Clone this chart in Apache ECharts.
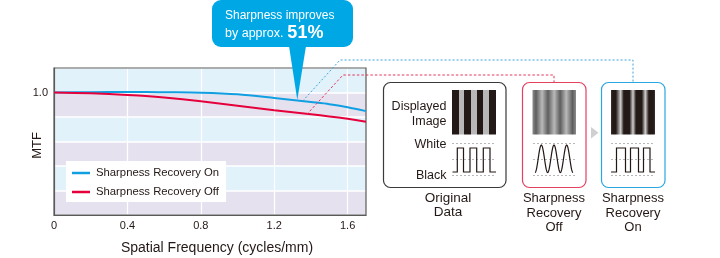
<!DOCTYPE html>
<html>
<head>
<meta charset="utf-8">
<script src="https://cdn.jsdelivr.net/npm/echarts@6/dist/echarts.min.js"></script>
<style>html,body{margin:0;padding:0;background:#fff}#c{width:720px;height:258px}</style>
</head>
<body>
<div id="c"></div>
<script>
// ---- data ----
var freq = [0, 0.2, 0.4, 0.5, 0.6, 0.8, 1.0, 1.2, 1.4, 1.5, 1.6, 1.7];
var mtfOn  = [1.0, 1.002, 1.004, 1.004, 1.002, 0.998, 0.985, 0.955, 0.922, 0.905, 0.88, 0.848];
var mtfOff = [1.0, 0.993, 0.980, 0.972, 0.960, 0.929, 0.892, 0.855, 0.823, 0.805, 0.785, 0.762];
var seriesNames = ['Sharpness Recovery On', 'Sharpness Recovery Off'];
var xTickLabels = ['0', '0.4', '0.8', '1.2', '1.6'];
var yTickLabels = ['1.0'];
var calloutLine1 = 'Sharpness improves';
var calloutLine2 = 'by approx.';
var calloutValue = '51%';
var panelLabels = ['Original\nData', 'Sharpness\nRecovery\nOff', 'Sharpness\nRecovery\nOn'];

var FONT = "'Liberation Sans', Arial, sans-serif";
var BLUE = '#10a0e2', RED = '#e5003c', CALL = '#00a7e5';

function pairs(xs, ys){ return xs.map(function(x,i){ return [x, ys[i]]; }); }
function fmtX(v){ for (var i=0;i<xTickLabels.length;i++){ if (Math.abs(parseFloat(xTickLabels[i])-v)<1e-6) return xTickLabels[i]; } return ''; }
function fmtY(v){ for (var i=0;i<yTickLabels.length;i++){ if (Math.abs(parseFloat(yTickLabels[i])-v)<1e-6) return yTickLabels[i]; } return ''; }

// ---- illustration helpers ----
var g = [];
function txt(x, y, s, opts){
  opts = opts || {};
  g.push({type:'text', z:10, style:{x:x, y:y, text:s, fill:opts.fill||'#231815',
    font:(opts.weight||'normal')+' '+(opts.size||12)+'px '+FONT, align:opts.align||'left',
    verticalAlign:opts.va||'middle', lineHeight:opts.lh||14}});
}
function dashedRow(x1, x2, y){
  g.push({type:'line', z:5, shape:{x1:x1,y1:y,x2:x2,y2:y}, style:{stroke:'#b8b8b8', lineWidth:1, lineDash:[2,2]}});
}
function squareWave(x0, x1, yHi, yLo, edges){
  var pts = [[x0,yLo]]; var lo = true;
  edges.forEach(function(e){ pts.push([e, lo?yLo:yHi]); lo = !lo; pts.push([e, lo?yLo:yHi]); });
  pts.push([x1, lo?yLo:yHi]);
  g.push({type:'polyline', z:6, shape:{points:pts}, style:{stroke:'#231815', lineWidth:1.2, fill:null}});
}
function stripes(x, y, w, h, stops){
  g.push({type:'rect', z:5, shape:{x:x,y:y,width:w,height:h},
    style:{fill:new echarts.graphic.LinearGradient(0,0,1,0, stops.map(function(s){return {offset:s[0], color:s[1]};}))}});
}

// callout
g.push({type:'rect', z:20, shape:{x:212, y:0, width:141, height:47, r:9}, style:{fill:CALL}});
g.push({type:'polygon', z:20, shape:{points:[[289,46],[306,46],[297.3,100]]}, style:{fill:CALL}});
g.push({type:'text', z:21, style:{x:225, y:16, text:calloutLine1, fill:'#fff', font:'12px '+FONT, verticalAlign:'middle'}});
g.push({type:'text', z:21, style:{x:225, y:33, text:'{a|'+calloutLine2+'}{b|'+calloutValue+'}', verticalAlign:'middle',
  rich:{a:{fill:'#fff', font:'12.5px '+FONT, padding:[2,4,0,0]}, b:{fill:'#fff', font:'bold 18px '+FONT}}}});

// dotted connectors
g.push({type:'polyline', z:8, shape:{points:[[302.7,101],[340,60],[633,60],[633,82]]}, style:{stroke:'#3aa6de', lineWidth:1, lineDash:[2,2], fill:null}});
g.push({type:'polyline', z:8, shape:{points:[[306.7,114.5],[343,75],[554,75],[554,82]]}, style:{stroke:'#e2375c', lineWidth:1, lineDash:[2.5,2], fill:null}});

// panel boxes
g.push({type:'rect', z:4, shape:{x:383.5, y:82.5, width:122.5, height:105, r:7}, style:{fill:'#fff', stroke:'#3a3a3a', lineWidth:1.2}});
g.push({type:'rect', z:4, shape:{x:522.5, y:82.5, width:63.5, height:105, r:7}, style:{fill:'#fff', stroke:'#e4405f', lineWidth:1.2}});
g.push({type:'rect', z:4, shape:{x:601.5, y:82.5, width:63.5, height:105, r:7}, style:{fill:'#fff', stroke:'#2aa7e0', lineWidth:1.2}});

// stripe images
var D = '#231916', L = '#b8b8b8';
stripes(452, 90, 44, 44.5, [[0,D],[0.159,D],[0.159,L],[0.28,L],[0.28,D],[0.432,D],[0.432,L],[0.561,L],[0.561,D],[0.711,D],[0.711,L],[0.841,L],[0.841,D],[1,D]]);
stripes(532.5, 90, 43.5, 44.5, [[0,'#8c8c8c'],[0.08,'#5e5e5e'],[0.22,'#b9b9b9'],[0.356,'#5e5e5e'],[0.5,'#b9b9b9'],[0.636,'#5e5e5e'],[0.776,'#b9b9b9'],[0.92,'#5e5e5e'],[1,'#8c8c8c']]);
stripes(611, 90, 44, 44.5, [[0,'#3b3330'],[0.04,'#231916'],[0.11,'#231916'],[0.22,'#d0d0d0'],[0.29,'#231916'],[0.42,'#231916'],[0.5,'#d0d0d0'],[0.57,'#231916'],[0.7,'#231916'],[0.78,'#d0d0d0'],[0.86,'#231916'],[0.96,'#231916'],[1,'#3b3330']]);

// waveform guides
[[452,496],[533,576],[611,655]].forEach(function(r){ dashedRow(r[0], r[1], 143.5); dashedRow(r[0], r[1], 159.5); dashedRow(r[0], r[1], 175.5); });
squareWave(452.5, 496, 148, 172, [457.3, 463.5, 470, 476.7, 483.3, 490]);
squareWave(611, 655, 148, 172, [616.5, 625.5, 630.5, 638.5, 643.5, 650]);
(function(){
  var pts = [], x0 = 535, x1 = 573, n = 90;
  for (var i=0;i<=n;i++){ var t = i/n; var x = x0 + (x1-x0)*t; var y = 158.8 + 13.8*Math.cos(2*Math.PI*3*t); pts.push([x,y]); }
  g.push({type:'polyline', z:6, shape:{points:pts}, style:{stroke:'#231815', lineWidth:1.2, fill:null}});
})();
// arrow
g.push({type:'polygon', z:6, shape:{points:[[591,127],[591,138.5],[598.5,132.7]]}, style:{fill:'#cfcfcf'}});

// panel texts
txt(446.5, 107, 'Displayed', {align:'right', size:12.5});
txt(446.5, 122, 'Image', {align:'right', size:12.5});
txt(446.5, 144.5, 'White', {align:'right', size:12.5});
txt(446.5, 176, 'Black', {align:'right', size:12.5});
txt(448, 205.5, panelLabels[0], {align:'center', size:13.5, lh:14.5});
txt(554, 213, panelLabels[1], {align:'center', size:13, lh:14.5});
txt(633, 213, panelLabels[2], {align:'center', size:13, lh:14.5});

var chart = echarts.init(document.getElementById('c'), null, {renderer:'canvas'});
chart.setOption({
  animation:false,
  textStyle:{fontFamily:FONT},
  grid:{left:54, right:354, top:68, bottom:43, show:true, borderColor:'#5a5a5a', borderWidth:1.2,
    backgroundColor:'transparent', z:3, containLabel:false, outerBoundsMode:'none'},
  xAxis:{type:'value', min:0, max:1.7, interval:0.4,
    name:'Spatial Frequency (cycles/mm)', nameLocation:'middle', nameGap:26, nameMoveOverlap:false,
    nameTextStyle:{fontSize:14, color:'#231815', padding:[0,0,0,14], fontFamily:FONT},
    axisLine:{show:true, lineStyle:{color:'#5a5a5a', width:1.2}}, axisTick:{show:false},
    axisLabel:{fontSize:11, color:'#231815', margin:5, formatter:fmtX, showMaxLabel:false, fontFamily:FONT},
    splitLine:{show:true, lineStyle:{color:'#ffffff', width:1.2}}},
  yAxis:{type:'value', min:0, max:1.2, interval:0.2,
    name:'MTF', nameLocation:'middle', nameGap:10, nameMoveOverlap:false,
    nameTextStyle:{fontSize:13, color:'#231815', fontFamily:FONT, padding:[0,8,0,0]},
    axisLine:{show:true, lineStyle:{color:'#5a5a5a', width:1.2}}, axisTick:{show:false},
    axisLabel:{fontSize:11, color:'#231815', margin:6, formatter:fmtY, fontFamily:FONT},
    splitLine:{show:true, lineStyle:{color:'#ffffff', width:1.5}},
    splitArea:{show:true, areaStyle:{color:['#e6e1ef','#e2f2fb']}}},
  legend:{show:true, left:66, top:161, orient:'vertical', backgroundColor:'#ffffff',
    padding:[5,7,3,6], itemGap:5, itemWidth:18, itemHeight:2.5, icon:'rect',
    textStyle:{fontSize:11.3, color:'#231815', lineHeight:14, fontFamily:FONT, padding:[0,0,0,1]},
    data:seriesNames},
  series:[
    {name:seriesNames[0], type:'line', data:pairs(freq, mtfOn), smooth:0.3, showSymbol:false, symbol:'none', z:4,
      lineStyle:{color:BLUE, width:2}, itemStyle:{color:BLUE}},
    {name:seriesNames[1], type:'line', data:pairs(freq, mtfOff), smooth:0.3, showSymbol:false, symbol:'none', z:4,
      lineStyle:{color:RED, width:2}, itemStyle:{color:RED}}
  ],
  graphic:g
});
</script>
</body>
</html>
